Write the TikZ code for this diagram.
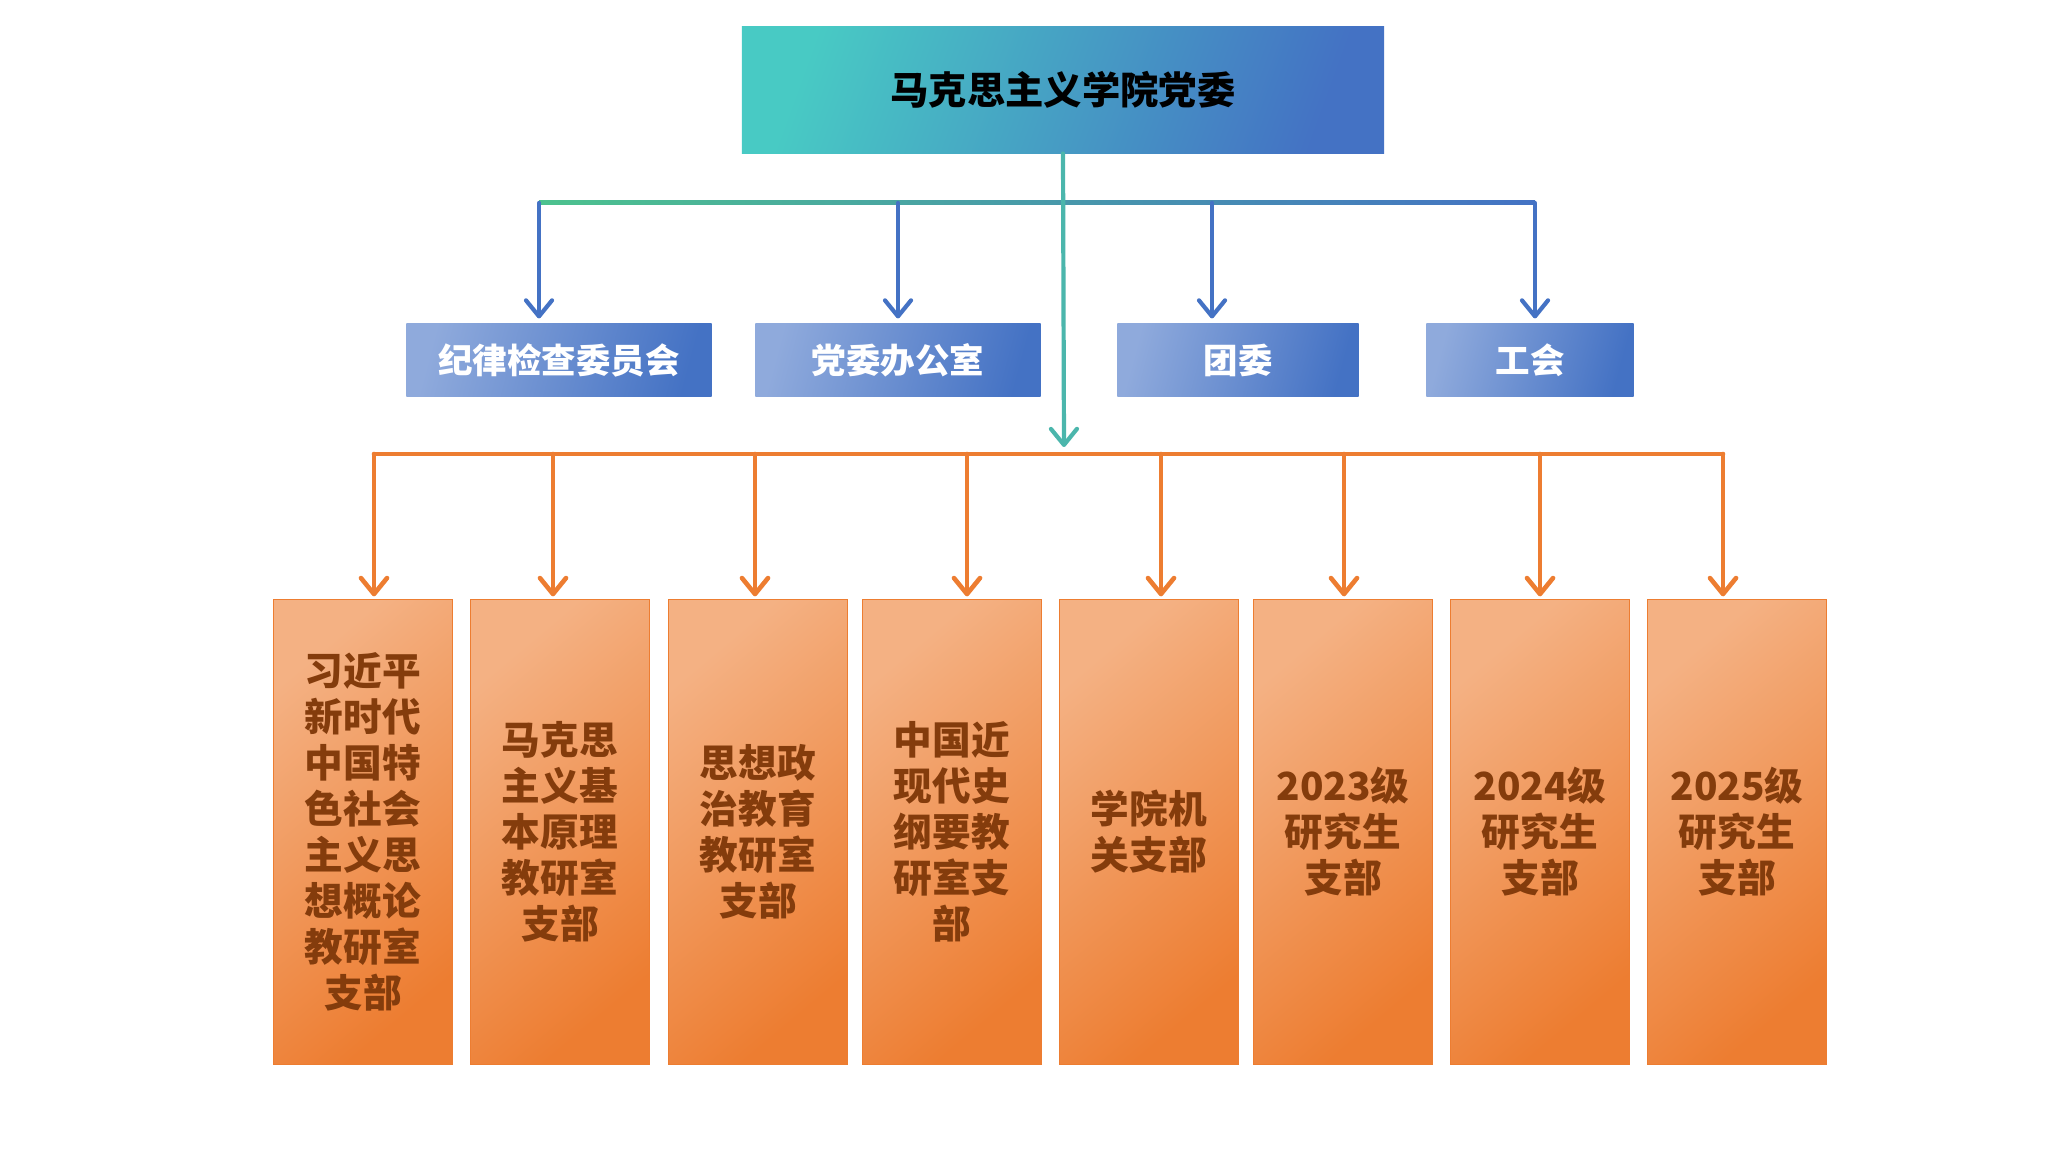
\documentclass[tikz,border=0pt]{standalone}
\usepackage{fontspec}
\newfontfamily\cjk{Noto Sans CJK SC}
\usetikzlibrary{arrows.meta,calc}

\definecolor{teal1}{HTML}{48CAC4}
\definecolor{acc1}{HTML}{4472C4}
\definecolor{blight}{HTML}{8FAADC}
\definecolor{bgreen}{HTML}{4CC28E}
\definecolor{trunk}{HTML}{4BB6AC}
\definecolor{olight}{HTML}{F4B183}
\definecolor{odark}{HTML}{ED7D31}
\definecolor{obrown}{HTML}{843C0C}

\begin{document}
\begin{tikzpicture}[x=0.01cm, y=-0.01cm]
\tikzset{ >={Straight Barb[length=0.16cm,width=0.26cm,round]}, inner sep=0pt, outer sep=0pt,
  topbox/.style={left color=teal1, right color=acc1, shading angle=70,
    minimum width=6.42cm, minimum height=1.27cm,
    font=\cjk\bfseries\fontsize{10.9pt}{13pt}\selectfont},
  bluebox/.style={left color=blight, right color=acc1, shading angle=75,
    minimum height=0.73cm, text=white,
    font=\cjk\bfseries\fontsize{9.8pt}{12pt}\selectfont},
  orangebox/.style={top color=olight, bottom color=odark, shading angle=40,
    draw=odark, line width=0.015cm, minimum width=1.79cm, minimum height=4.65cm,
    text=obrown, align=center,
    font=\cjk\bfseries\fontsize{11pt}{13.1pt}\selectfont},
  bline/.style={acc1, line width=0.042cm, line cap=round, line join=round},
  oline/.style={odark, line width=0.046cm, line cap=round, line join=round},
}

\useasboundingbox (0,0) rectangle (2048,1152);
%\draw [lightgray, dashed, step=100] (0,0) grid (2048,1152);

\node [topbox] (DW) at (1063,90) {马克思主义学院党委};

\node [bluebox, minimum width=3.05cm] (JW) at (559,360) {纪律检查委员会};
\node [bluebox, minimum width=2.85cm] (BG) at (898,360) {党委办公室};
\node [bluebox, minimum width=2.41cm] (TW) at (1238,360) {团委};
\node [bluebox, minimum width=2.07cm] (GH) at (1530,360) {工会};

\node [orangebox] (Z1) at (363,832) {习近平\\新时代\\中国特\\色社会\\主义思\\想概论\\教研室\\支部};
\node [orangebox] (Z2) at (560,832) {马克思\\主义基\\本原理\\教研室\\支部};
\node [orangebox] (Z3) at (758,832) {思想政\\治教育\\教研室\\支部};
\node [orangebox] (Z4) at (952,832) {中国近\\现代史\\纲要教\\研室支\\部};
\node [orangebox] (Z5) at (1149,832) {学院机\\关支部};
\node [orangebox] (Z6) at (1343,832) {2023级\\研究生\\支部};
\node [orangebox] (Z7) at (1540,832) {2024级\\研究生\\支部};
\node [orangebox] (Z8) at (1737,832) {2025级\\研究生\\支部};

\coordinate (b1) at (539,203);
\coordinate (b2) at (898,203);
\coordinate (b3) at (1212,203);
\coordinate (b4) at (1535,203);
\coordinate (T)  at (1064,447);

\coordinate (o1) at (374,454);
\coordinate (o2) at (553,454);
\coordinate (o3) at (755,454);
\coordinate (o4) at (967,454);
\coordinate (o5) at (1161,454);
\coordinate (o6) at (1344,454);
\coordinate (o7) at (1540,454);
\coordinate (o8) at (1723,454);

% upper bus
\shade [left color=bgreen, right color=acc1] ($(b1)+(0,-2)$) rectangle ($(b4)+(0,2)$);
\draw [bline, ->, shorten >=0.05cm] (b1) -- (b1 |- JW.north);
\draw [bline, ->, shorten >=0.05cm] (b2) -- (b2 |- BG.north);
\draw [bline, ->, shorten >=0.05cm] (b3) -- (b3 |- TW.north);
\draw [bline, ->, shorten >=0.05cm] (b4) -- (b4 |- GH.north);

\draw [trunk, line width=0.042cm, line cap=round, ->] (DW.south) -- (T);

% lower bus
\draw [oline] (o1) -- (o8);
\draw [oline, ->, shorten >=0.03cm] (o1) -- (o1 |- Z1.north);
\draw [oline, ->, shorten >=0.03cm] (o2) -- (o2 |- Z2.north);
\draw [oline, ->, shorten >=0.03cm] (o3) -- (o3 |- Z3.north);
\draw [oline, ->, shorten >=0.03cm] (o4) -- (o4 |- Z4.north);
\draw [oline, ->, shorten >=0.03cm] (o5) -- (o5 |- Z5.north);
\draw [oline, ->, shorten >=0.03cm] (o6) -- (o6 |- Z6.north);
\draw [oline, ->, shorten >=0.03cm] (o7) -- (o7 |- Z7.north);
\draw [oline, ->, shorten >=0.03cm] (o8) -- (o8 |- Z8.north);

\end{tikzpicture}
\end{document}
